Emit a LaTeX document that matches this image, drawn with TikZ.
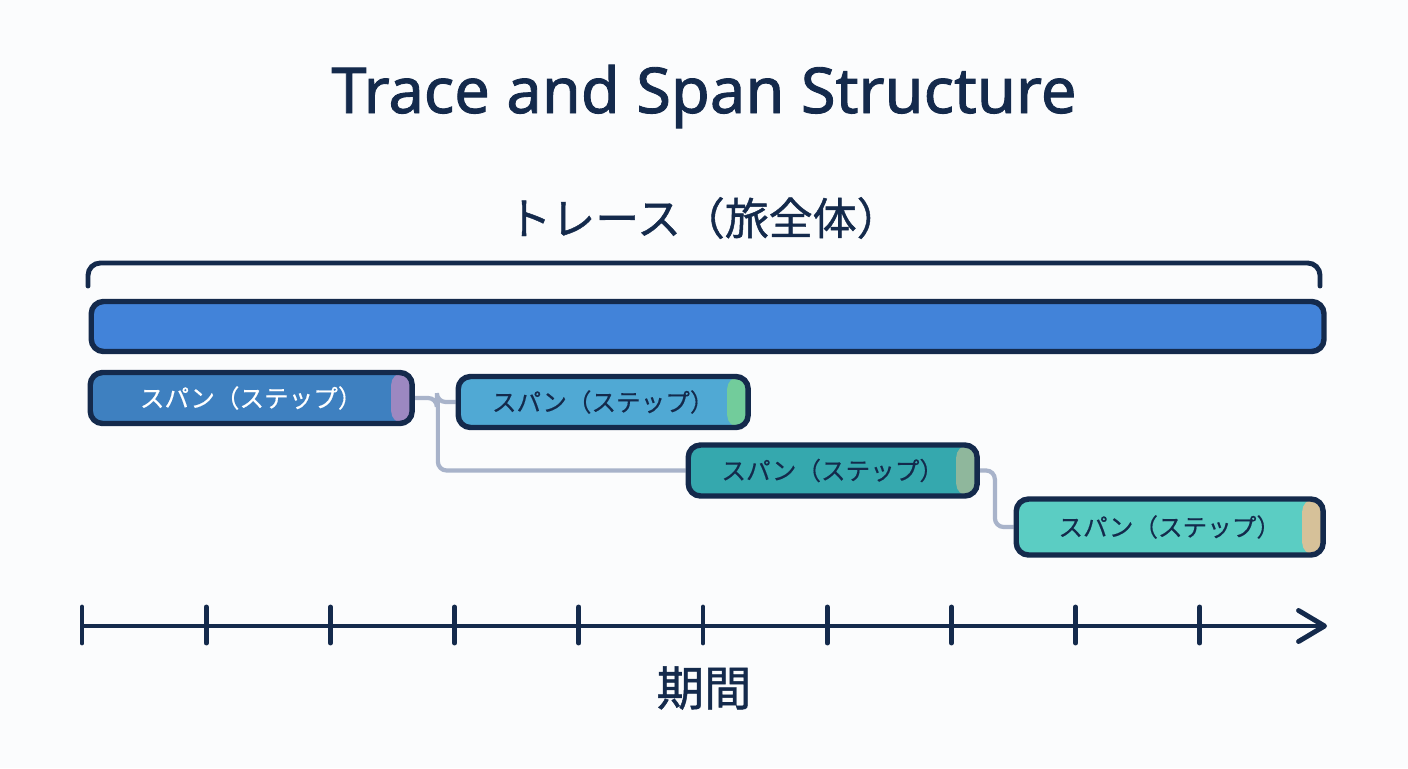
\documentclass[tikz,border=0pt]{standalone}
\usepackage{fontspec}
\setmainfont[FakeBold=0.4]{Noto Sans CJK JP}
\newfontfamily\titlefont[FakeBold=1.4]{Noto Sans}
\newfontfamily\headfont[FakeBold=1.0]{Noto Sans CJK JP}
\usetikzlibrary{arrows.meta,positioning,backgrounds}
\definecolor{DeepNavy}{HTML}{142A4C}
\definecolor{PageWhite}{HTML}{FBFCFD}
\definecolor{TraceBlue}{HTML}{4283D9}
\definecolor{SpanBlue}{HTML}{3E80C0}
\definecolor{SpanSky}{HTML}{50A9D4}
\definecolor{SpanTeal}{HTML}{35A8AE}
\definecolor{SpanAqua}{HTML}{5BCDC3}
\definecolor{CapPurple}{HTML}{9C88C1}
\definecolor{CapGreen}{HTML}{72CC9B}
\definecolor{CapSage}{HTML}{8FB79C}
\definecolor{CapSand}{HTML}{D6C199}
\definecolor{LinkGray}{HTML}{A8B3CA}
\tikzset{
  tracebar/.style={rounded corners=7pt, draw=DeepNavy, fill=TraceBlue, line width=3.1pt, minimum height=1.0cm, minimum width=24.66cm, anchor=west},
  spanbox/.style n args={2}{rounded corners=7pt, draw=DeepNavy, fill=#1, line width=3.1pt, minimum height=1.02cm, anchor=west, inner sep=0pt, font=\fontsize{14}{16}\selectfont, text=DeepNavy, path picture={\fill[#2] ([xshift=-0.42cm]path picture bounding box.north east) rectangle (path picture bounding box.south east);}},
  link/.style={draw=LinkGray, line width=2.4pt, rounded corners=5pt},
  bracket/.style={draw=DeepNavy, line width=2.8pt, rounded corners=7pt, line cap=round},
  axis/.style={draw=DeepNavy, line width=2.8pt, -{Straight Barb[length=0.52cm, width=0.62cm, line cap=round, line join=round]}},
  tickmark/.style={draw=DeepNavy, line width=2.8pt, line cap=round}
}

\begin{document}
\begin{tikzpicture}[x=0.02cm, y=-0.02cm]
\useasboundingbox (0,0) rectangle (1408,768);
\node[font=\titlefont\fontsize{36}{40}\selectfont, text=DeepNavy, anchor=base] (title) at (704,113) {Trace and Span Structure};
\node[font=\headfont\fontsize{25}{28}\selectfont, text=DeepNavy] (trace) at (704,218) {トレース（旅全体）};
% bracket over the whole trace
\coordinate (bl) at (88,286);
\coordinate (br) at (1320,286);
\draw[bracket] (bl) -- (88,263) -- (1320,263) -- (br);
\node[tracebar] (bar) at (88.5,326.5) {};
% spans
\node[spanbox={SpanBlue}{CapPurple}, minimum width=6.44cm, text=white] (s1) at (87.5,398) {スパン（ステップ）};
\node[spanbox={SpanSky}{CapGreen}, minimum width=5.8cm] (s2) at (455.5,402) {スパン（ステップ）};
\node[spanbox={SpanTeal}{CapSage}, minimum width=5.78cm] (s3) at (685.5,470.5) {スパン（ステップ）};
\node[spanbox={SpanAqua}{CapSand}, minimum width=6.14cm, minimum height=1.12cm] (s4) at (1013.5,527) {スパン（ステップ）};
\coordinate (fork) at ([xshift=0.46cm]s1.east);
\begin{scope}[on background layer]
\fill[PageWhite] (0,0) rectangle (1408,768);
\draw[link] (s1.east) -- ++(22,0) |- (s2.west);
\draw[link] (fork) |- (s3.west);
\draw[link] (s3.east) -- ++(15,0) |- (s4.west);
\end{scope}
% time axis
\coordinate (origin) at (82,626);
\coordinate (tip) at (1327,626);
\draw[axis] (origin) -- (tip);
\foreach \k in {0,...,9}
  \draw[tickmark] (82+124.2*\k,607) -- (82+124.2*\k,643);
\node[font=\headfont\fontsize{27}{30}\selectfont, text=DeepNavy] (dur) at (704,688) {期間};
\end{tikzpicture}
\end{document}
